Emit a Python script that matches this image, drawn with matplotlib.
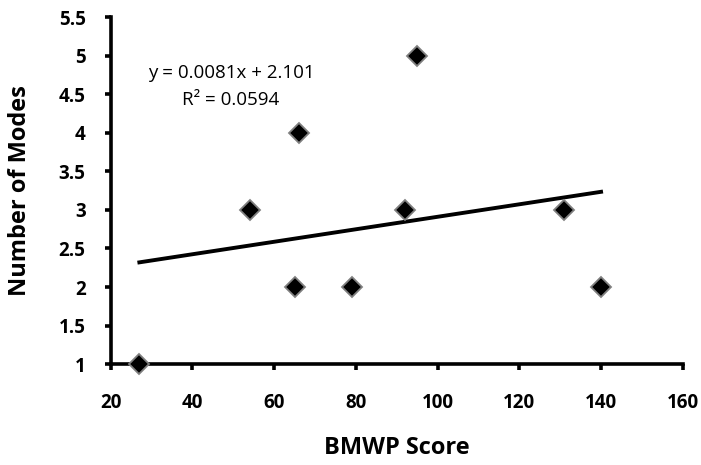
import matplotlib.pyplot as plt
import numpy as np

# BMWP score vs number of modes
bmwp = [27, 54, 65, 66, 79, 92, 95, 131, 140]
modes = [1, 3, 2, 4, 2, 3, 5, 3, 2]

slope = 0.0081
intercept = 2.101
r2 = 0.0594

plt.rcParams['font.family'] = ['Open Sans', 'DejaVu Sans']

fig = plt.figure(figsize=(7.01, 4.65), dpi=100)
ax = fig.add_axes([0.158, 0.217, 0.816, 0.746])

xs = np.array([min(bmwp), max(bmwp)])
ax.plot(xs, slope * xs + intercept, color='black', lw=2.8, zorder=2)
ax.plot(bmwp, modes, linestyle='none', marker='D', markersize=10,
        markerfacecolor='black', markeredgecolor='#7f7f7f', markeredgewidth=1.3,
        zorder=3, clip_on=False)

ax.text(49.4, 4.77, 'y = 0.0081x + 2.101', ha='center', va='center',
        fontsize=13.5)
ax.text(49.4, 4.42, 'R² = 0.0594', ha='center', va='center',
        fontsize=13.5)

ax.set_xlim(20, 160)
ax.set_ylim(1, 5.5)
ax.set_xticks(range(20, 161, 20))
ax.set_yticks([1, 1.5, 2, 2.5, 3, 3.5, 4, 4.5, 5, 5.5])
ax.set_yticklabels(['1', '1.5', '2', '2.5', '3', '3.5', '4', '4.5', '5', '5.5'])
for lab in ax.get_xticklabels() + ax.get_yticklabels():
    lab.set_fontweight('bold')

for side in ['top', 'right']:
    ax.spines[side].set_visible(False)
for side in ['left', 'bottom']:
    ax.spines[side].set_linewidth(2.6)
ax.tick_params(direction='out', length=4, width=2.6, labelsize=13.5)
ax.tick_params(axis='x', pad=17)
ax.tick_params(axis='y', pad=14)

ax.set_xlabel('BMWP Score', fontsize=17, fontweight='bold', va='center')
ax.set_ylabel('Number of Modes', fontsize=17, fontweight='bold', va='center')
ax.xaxis.set_label_coords(0.5, -0.242)
ax.yaxis.set_label_coords(-0.159, 0.5)

plt.savefig('out.png', dpi=100)
